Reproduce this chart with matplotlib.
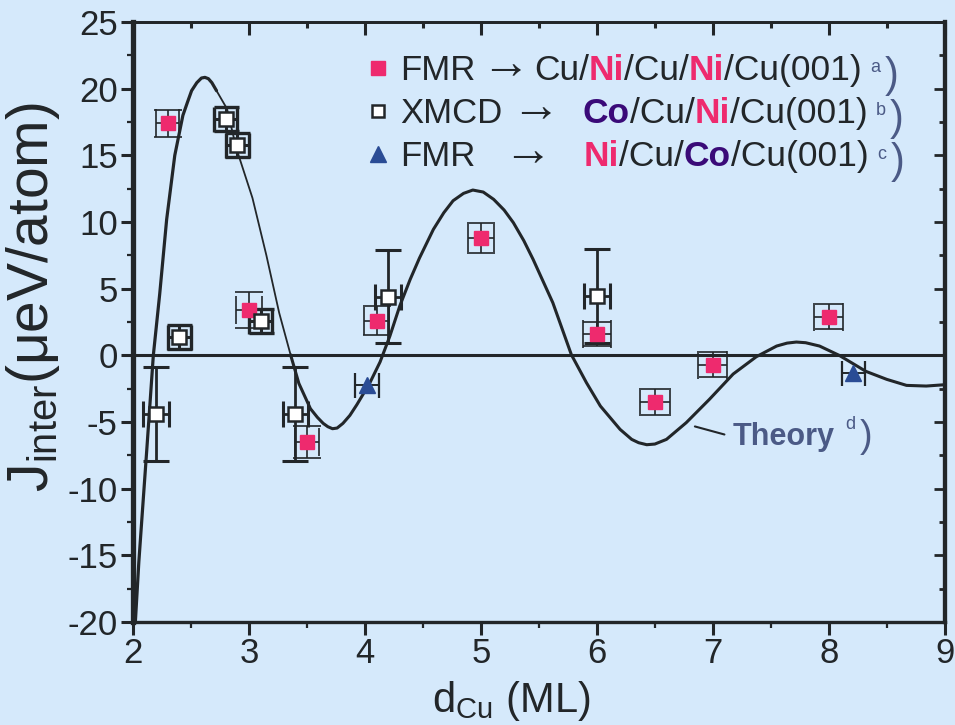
import matplotlib
matplotlib.use("Agg")
import matplotlib.pyplot as plt
from matplotlib.lines import Line2D
from matplotlib.ticker import MultipleLocator

plt.rcParams['font.family'] = ['Liberation Sans', 'DejaVu Sans']
plt.rcParams['mathtext.fontset'] = 'custom'
plt.rcParams['mathtext.rm'] = 'Liberation Sans'
plt.rcParams['mathtext.it'] = 'Liberation Sans:italic'
plt.rcParams['axes.unicode_minus'] = False

#%% data
# FMR  Cu/Ni/Cu/Ni/Cu(001)
fmr_x = [2.3, 3.0, 3.5, 4.1, 5.0, 6.0, 6.5, 7.0, 8.0]
fmr_y = [17.4, 3.4, -6.5, 2.6, 8.8, 1.6, -3.5, -0.7, 2.9]
fmr_xerr = [0.10, 0.11, 0.10, 0.11, 0.115, 0.12, 0.13, 0.125, 0.125]
fmr_yerr = [1.0, 1.35, 1.2, 1.1, 1.1, 0.9, 0.95, 0.95, 0.95]

# XMCD  Co/Cu/Ni/Cu(001), small error boxes
xmcd_x = [2.4, 2.8, 2.9, 3.1]
xmcd_y = [1.35, 17.7, 15.8, 2.6]
xmcd_xerr = [0.10, 0.10, 0.10, 0.10]
xmcd_yerr = [0.9, 0.9, 0.9, 0.9]

# XMCD, large error bars
xmcd2_x = [2.2, 3.4, 4.2, 6.0]
xmcd2_y = [-4.4, -4.4, 4.4, 4.45]
xmcd2_xerr = [0.11, 0.11, 0.11, 0.11]
xmcd2_yerr = [3.55, 3.55, 3.5, 3.5]

# FMR  Ni/Cu/Co/Cu(001)
tri_x = [4.02, 8.21]
tri_y = [-2.2, -1.3]
tri_xerr = [0.105, 0.10]

# theory curve
theory_x = [2.02, 2.05, 2.08, 2.12, 2.175, 2.23, 2.29, 2.36, 2.43, 2.47, 2.505, 2.55,
            2.59, 2.62, 2.65, 2.68, 2.72, 2.81, 2.89, 3.03, 3.15, 3.26, 3.36, 3.43,
            3.53, 3.59, 3.64, 3.68, 3.72, 3.76, 3.81, 3.87, 3.93, 4.04, 4.13, 4.215,
            4.30, 4.39, 4.47, 4.59, 4.68, 4.76, 4.85, 4.93, 5.02, 5.11, 5.20, 5.28,
            5.37, 5.45, 5.62, 5.78, 5.91, 6.03, 6.20, 6.30, 6.36, 6.43, 6.50, 6.60,
            6.77, 6.97, 7.175, 7.375, 7.55, 7.64, 7.72, 7.80, 7.92, 8.09, 8.32, 8.50,
            8.67, 8.84, 9.0]
theory_y = [-20.0, -15.5, -11.8, -6.9, 0.0, 4.6, 10.2, 15.0, 18.0, 19.0, 19.85, 20.45,
            20.8, 20.85, 20.75, 20.45, 19.85, 18.5, 15.55, 11.8, 7.5, 3.2, 0.0, -2.1,
            -4.0, -4.65, -5.1, -5.35, -5.5, -5.45, -5.1, -4.5, -3.7, -2.1, -0.5, 1.45,
            3.7, 5.7, 7.3, 9.45, 10.7, 11.6, 12.15, 12.4, 12.25, 11.7, 10.9, 9.95,
            8.6, 7.2, 3.95, 0.05, -2.05, -3.8, -5.55, -6.3, -6.55, -6.7, -6.65, -6.3,
            -5.05, -3.3, -1.4, -0.1, 0.7, 0.92, 1.0, 0.95, 0.7, 0.0, -1.2, -1.8,
            -2.25, -2.3, -2.2]

bg = '#D5E9FB'
dark = '#222629'
pink = '#EE2A6E'
purple = '#3A0A78'
blue = '#2A4C95'
slate = '#4B5A86'

#%% figure
fig = plt.figure(figsize=(9.55, 7.25), dpi=100, facecolor=bg)
ax = fig.add_axes([0.1393, 0.142, 0.850, 0.8276])
ax.set_facecolor(bg)

# theory: thick rise, thin fall, thick rest
ax.plot(theory_x[:17], theory_y[:17], color=dark, lw=2.3, solid_joinstyle='round',
        solid_capstyle='round', zorder=2)
ax.plot(theory_x[16:23], theory_y[16:23], color=dark, lw=1.3, zorder=2)
ax.plot(theory_x[22:], theory_y[22:], color=dark, lw=2.2, solid_joinstyle='round', zorder=2)
ax.axhline(0, color=dark, lw=2.2, zorder=2)

ax.errorbar(fmr_x, fmr_y, xerr=fmr_xerr, yerr=fmr_yerr, fmt='none', ecolor=dark,
            elinewidth=1.2, capsize=10, capthick=1.2, zorder=3)
ax.plot(fmr_x, fmr_y, 's', color=pink, ms=10.5, mec=pink, zorder=4)

ax.errorbar(xmcd_x, xmcd_y, xerr=xmcd_xerr, yerr=xmcd_yerr, fmt='none', ecolor=dark,
            elinewidth=2.2, capsize=9, capthick=2.4, zorder=3)
ax.errorbar(xmcd2_x, xmcd2_y, xerr=xmcd2_xerr, yerr=xmcd2_yerr, fmt='none', ecolor=dark,
            elinewidth=2.0, capsize=9.5, capthick=2.2, zorder=3)
ax.plot(xmcd_x + xmcd2_x, xmcd_y + xmcd2_y, 's', color='white', mec=dark, mew=1.8,
        ms=9.5, zorder=4)

ax.errorbar(tri_x, tri_y, xerr=tri_xerr, fmt='none', ecolor=dark,
            elinewidth=1.4, capsize=9, capthick=1.6, zorder=3)
ax.plot(tri_x, tri_y, '^', color=blue, ms=12, zorder=4)

#%% axes, ticks
ax.set_xlim(2, 9)
ax.set_ylim(-20, 25)
ax.xaxis.set_major_locator(MultipleLocator(1))
ax.xaxis.set_minor_locator(MultipleLocator(0.5))
ax.yaxis.set_major_locator(MultipleLocator(5))
ax.yaxis.set_minor_locator(MultipleLocator(2.5))
ax.tick_params(which='major', direction='out', length=9, width=2.2, color=dark,
               labelsize=25, labelcolor=dark, top=False, right=False)
ax.tick_params(which='minor', direction='out', length=4.5, width=1.6, color=dark,
               top=False, right=False)
ax.tick_params(axis='y', which='major', pad=2)
ax.tick_params(axis='x', which='major', pad=2)

for side, w in [('left', 3.8), ('bottom', 2.4), ('top', 2.0), ('right', 3.0)]:
    ax.spines[side].set_linewidth(w)
    ax.spines[side].set_color(dark)

secx = ax.secondary_xaxis('top')
secx.xaxis.set_major_locator(MultipleLocator(1))
secx.xaxis.set_minor_locator(MultipleLocator(0.5))
secx.tick_params(which='major', direction='in', length=9, width=2.2, color=dark, labeltop=False)
secx.tick_params(which='minor', direction='in', length=4.5, width=2.2, color=dark)
secx.spines['top'].set_linewidth(2.0)
secx.spines['top'].set_color(dark)

secy = ax.secondary_yaxis('right')
secy.yaxis.set_major_locator(MultipleLocator(5))
secy.yaxis.set_minor_locator(MultipleLocator(2.5))
secy.tick_params(which='major', direction='in', length=8, width=2.0, color=dark, labelright=False)
secy.tick_params(which='minor', direction='in', length=4, width=2.0, color=dark)
secy.spines['right'].set_linewidth(3.0)
secy.spines['right'].set_color(dark)

ax.set_xlabel(r'd$_{\mathrm{Cu}}$ (ML)', fontsize=30, color=dark)
ax.xaxis.set_label_coords(0.4655, -0.095)
ax.set_ylabel(r'J$_{\mathrm{inter}}$(μeV/atom)', fontsize=41, color=dark)
ax.yaxis.set_label_coords(-0.088, 0.542)

#%% legend with coloured formulas
handles = [Line2D([], [], ls='none', marker='s', color=pink, ms=10.5),
           Line2D([], [], ls='none', marker='s', color='white', mec=dark, mew=1.8, ms=8.5),
           Line2D([], [], ls='none', marker='^', color=blue, ms=12)]
leg = ax.legend(handles, ['FMR', 'XMCD', 'FMR'], loc='upper left',
                bbox_to_anchor=(0.289, 0.947), frameon=False, fontsize=25,
                handlelength=0.6, handletextpad=0.33, labelspacing=0.29,
                borderpad=0, borderaxespad=0)
for t in leg.get_texts():
    t.set_color(dark)

rows = [
    (0.429, 0.4938, [('Cu/', dark, 'normal'), ('Ni', pink, 'bold'), ('/Cu/', dark, 'normal'),
                     ('Ni', pink, 'bold'), ('/Cu(001)', dark, 'normal')], 'a'),
    (0.466, 0.554, [('Co', purple, 'bold'), ('/Cu/', dark, 'normal'), ('Ni', pink, 'bold'),
                    ('/Cu(001)', dark, 'normal')], 'b'),
    (0.456, 0.555, [('Ni', pink, 'bold'), ('/Cu/', dark, 'normal'), ('Co', purple, 'bold'),
                    ('/Cu(001)', dark, 'normal')], 'c'),
]
for lt, (ax_arrow, ax_start, pieces, ref) in zip(leg.get_texts(), rows):
    ax.annotate('→', xy=(ax_arrow, 0.5), xycoords=(ax.transAxes, lt), xytext=(0, 3),
                textcoords='offset points', va='center', ha='left', fontsize=35,
                color=dark, zorder=6)
    prev = None
    for s, c, w in pieces:
        if prev is None:
            prev = ax.annotate(s, xy=(ax_start, 0), xycoords=(ax.transAxes, lt),
                               va='bottom', ha='left', fontsize=25.5, color=c,
                               fontweight=w, zorder=6)
        else:
            prev = ax.annotate(s, xy=(1, 0), xycoords=prev, va='bottom', ha='left',
                               fontsize=25.5, color=c, fontweight=w, zorder=6)
    ax.annotate(ref, xy=(1, 1), xycoords=prev, xytext=(6, -4), textcoords='offset points',
                va='top', ha='left', fontsize=13, color=slate, zorder=6)
    ax.annotate(')', xy=(1, 0.5), xycoords=prev, xytext=(16, -4), textcoords='offset points',
                va='center', ha='left', fontsize=30, color=slate, zorder=6)

#%% theory label
th = ax.annotate('Theory', xy=(6.845, -5.33), xytext=(7.17, -6.1), fontsize=22,
                 fontweight='bold', color=slate, va='center', ha='left', zorder=6,
                 arrowprops=dict(arrowstyle='-', color=dark, lw=1.5, relpos=(0, 0.5),
                                 shrinkA=4, shrinkB=0))
ax.annotate('d', xy=(1, 1), xycoords=th, xytext=(8, 4), textcoords='offset points',
            va='top', ha='left', fontsize=13, color=slate, zorder=6)
ax.annotate(')', xy=(1, 0.5), xycoords=th, xytext=(18, 0), textcoords='offset points',
            va='center', ha='left', fontsize=27, color=slate, zorder=6)

fig.canvas.draw()
fig.savefig('out.png', dpi=100, facecolor=bg)
